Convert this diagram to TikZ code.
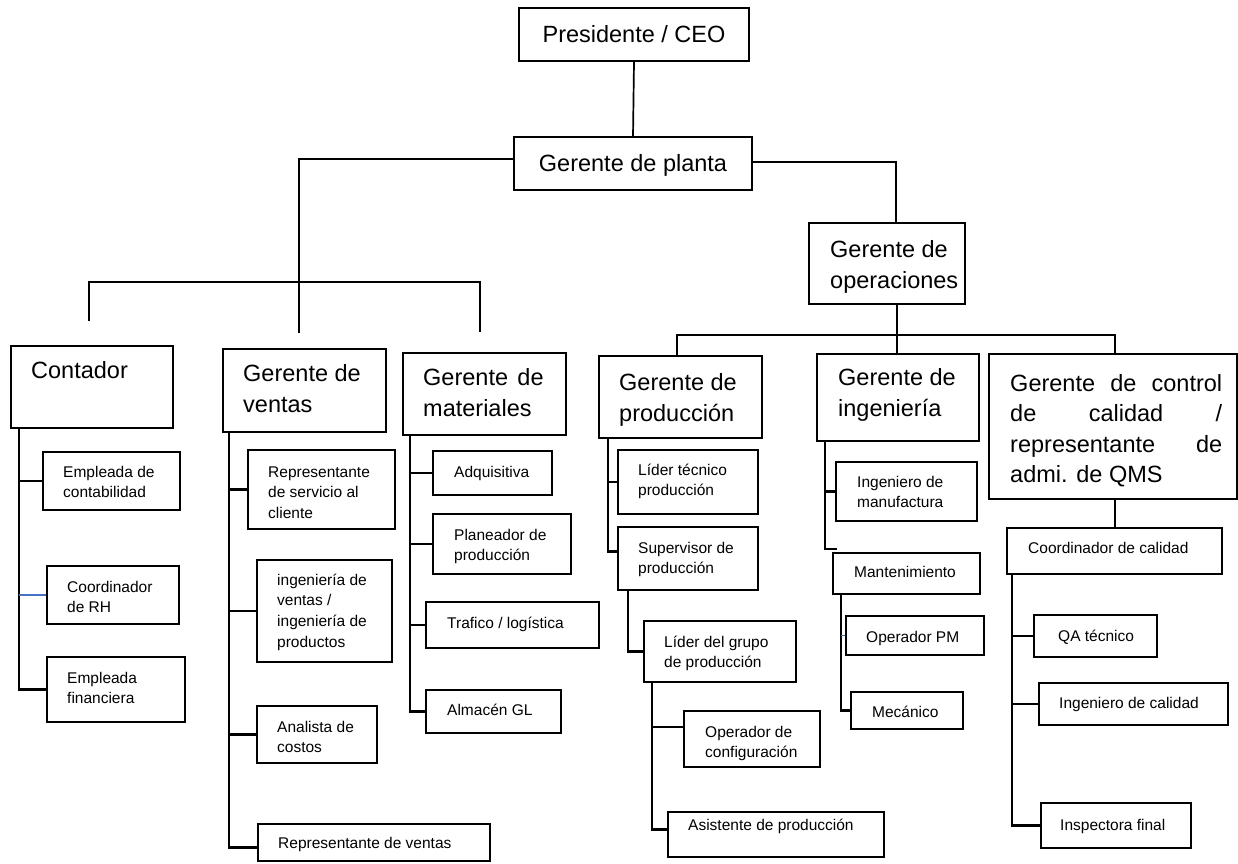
\documentclass[tikz,border=0pt]{standalone}
\usepackage{fontspec}
\setmainfont{Liberation Sans}
\definecolor{linkblue}{RGB}{68,114,196}
% box given by its corners (x1,y1)-(x2,y2), y measured downwards
\newcommand{\orgbox}[5]{\node[box, minimum width={(#4-#2)*1pt}, minimum height={(#5-#3)*1pt}] (#1) at ({(#2+#4)/2},{(#3+#5)/2}) {};}
% left-aligned text block whose first baseline sits at (x,y)
\newcommand{\orgtext}[5]{\node[#2] (#1) at (#3,#4) {\begin{tabular}[t]{@{}l@{}}#5\end{tabular}};}
\begin{document}
\begin{tikzpicture}[x=1pt,y=-1pt,
  box/.style={draw, line width=1.5pt, inner sep=0pt},
  wire/.style={line width=2.1pt},
  topwire/.style={line width=1.7pt},
  bluewire/.style={line width=1.7pt, draw=linkblue},
  big/.style={font=\fontsize{23.5}{31}\selectfont, inner sep=0pt, anchor=base west},
  small/.style={font=\fontsize{15.5}{20.7}\selectfont, inner sep=0pt, anchor=base west},
]
\useasboundingbox (0,0) rectangle (1238,863);

% ---------- top levels ----------
\orgbox{pres}{519}{8}{749}{61}
\node[big, anchor=base] (pres-t) at (634,42) {Presidente / CEO};
\orgbox{gp}{514}{137}{752}{190}
\node[big, anchor=base] (gp-t) at (633,171) {Gerente de planta};
\orgbox{opr}{809}{223}{965}{304}
\orgtext{opr-t}{big}{830}{257}{Gerente de\\operaciones}

\draw[topwire] (pres.south) -- (gp.north);

% left branch of the plant manager
\coordinate (jL) at (299,159);
\coordinate (dV) at (299,333);
\coordinate (hL) at (89,282);
\coordinate (hR) at (480,282);
\coordinate (dC) at (89,321);
\coordinate (dM) at (480,332);
\draw[wire] (gp.west |- jL) -- (jL) -- (dV);
\draw[wire] (dC) -- (hL) -- (hR) -- (dM);

% right branch of the plant manager
\coordinate (jR) at (896,162);
\draw[topwire] (gp.east |- jR) -- (jR) -- (jR |- opr.north);

% ---------- accounting ----------
\orgbox{ctr}{11}{346}{173}{428}
\orgtext{ctr-t}{big}{31}{378}{Contador}
\orgbox{emp1}{43}{452}{180}{510}
\orgtext{emp1-t}{small}{63}{477}{Empleada de\\contabilidad}
\orgbox{rh}{47}{566}{179}{624}
\orgtext{rh-t}{small}{67}{592}{Coordinador\\de RH}
\orgbox{fin}{47}{657}{185}{722}
\orgtext{fin-t}{small}{67}{683}{Empleada\\financiera}
\coordinate (ctrS) at ([xshift=9pt]ctr.south west);
\draw[wire] (ctrS) |- (fin.west);
\draw[wire] (emp1.west) -- (emp1.west -| ctrS);
\draw[bluewire] (rh.west) -- (rh.west -| ctrS);

% ---------- sales ----------
\orgbox{ven}{223}{349}{386}{432}
\orgtext{ven-t}{big}{243}{381}{Gerente de\\ventas}
\orgbox{rsc}{248}{450}{395}{529}
\orgtext{rsc-t}{small}{268}{477}{Representante\\de servicio al\\cliente}
\orgbox{ivp}{257}{560}{392}{662}
\orgtext{ivp-t}{small}{277}{585}{ingeniería de\\ventas /\\ingeniería de\\productos}
\orgbox{ana}{257}{706}{377}{763}
\orgtext{ana-t}{small}{277}{732}{Analista de\\costos}
\orgbox{rve}{258}{824}{490}{861}
\orgtext{rve-t}{small}{278}{848}{Representante de ventas}
\coordinate (venS) at ([xshift=7pt]ven.south west);
\draw[wire] (venS) |- ([yshift=-5pt]rve.west);
\draw[wire] (rsc.west) -- (rsc.west -| venS);
\draw[wire] (ivp.west) -- (ivp.west -| venS);
\draw[wire] (ana.west) -- (ana.west -| venS);

% ---------- materials ----------
\orgbox{mat}{403}{353}{566}{435}
\orgtext{mat-t}{big}{423}{385}{Gerente\hspace{0.12em} de\\materiales}
\orgbox{adq}{433}{451}{552}{495}
\orgtext{adq-t}{small}{454}{477}{Adquisitiva}
\orgbox{pln}{433}{514}{571}{574}
\orgtext{pln-t}{small}{454}{540}{Planeador de\\producción}
\orgbox{tra}{426}{602}{599}{648}
\orgtext{tra-t}{small}{447}{628}{Trafico / logística}
\orgbox{alm}{426}{690}{561}{733}
\orgtext{alm-t}{small}{447}{715}{Almacén GL}
\coordinate (matS) at ([xshift=8pt]mat.south west);
\draw[wire] (matS) |- (alm.west);
\draw[wire] (adq.west) -- (adq.west -| matS);
\draw[wire] (pln.west) -- (pln.west -| matS);
\draw[wire] (tra.west) -- (tra.west -| matS);

% ---------- operations: second bar ----------
\coordinate (hPL) at (677,335);
\coordinate (hPR) at (1115,335);
\coordinate (jO) at (897,335);
\draw[topwire] (jO |- opr.south) -- (jO) -- (jO |- 0,354);
\draw[topwire] (hPL |- 0,356) -- (hPL) -- (hPR) -- (hPR |- 0,354);

% ---------- production ----------
\orgbox{pro}{599}{356}{762}{438}
\orgtext{pro-t}{big}{619}{390}{Gerente de\\producción}
\orgbox{ltp}{618}{450}{758}{514}
\orgtext{ltp-t}{small}{638}{475}{Líder técnico\\producción}
\orgbox{sup}{618}{527}{758}{590}
\orgtext{sup-t}{small}{638}{553}{Supervisor de\\producción}
\coordinate (proS) at ([xshift=10pt]pro.south west);
\draw[wire] (proS) |- ([yshift=7pt]sup.west);
\draw[wire] (ltp.west) -- (ltp.west -| proS);
\orgbox{lgp}{644}{621}{796}{682}
\orgtext{lgp-t}{small}{664}{647}{Líder del grupo\\de producción}
\coordinate (supS) at ([xshift=11pt]sup.south west);
\draw[wire] (supS) |- (lgp.west);
\orgbox{opc}{684}{711}{820}{767}
\orgtext{opc-t}{small}{705}{737}{Operador de\\configuración}
\orgbox{asi}{668}{812}{884}{857}
\orgtext{asi-t}{small}{688}{830}{Asistente de producción}
\coordinate (lgpS) at ([xshift=9pt]lgp.south west);
\draw[wire] (lgpS) |- ([yshift=5pt]asi.west);
\draw[wire] ([yshift=12pt]opc.west) -- ([yshift=12pt]opc.west -| lgpS);

% ---------- engineering ----------
\orgbox{ing}{817}{354}{979}{441}
\orgtext{ing-t}{big}{838}{385}{Gerente de\\ingeniería}
\orgbox{imf}{836}{462}{977}{521}
\orgtext{imf-t}{small}{857}{487}{Ingeniero de\\manufactura}
\orgbox{man}{833}{553}{980}{594}
\orgtext{man-t}{small}{854}{577}{Mantenimiento}
\coordinate (ingS) at ([xshift=9pt]ing.south west);
\coordinate (ingEnd) at (837,549);
\draw[wire] (ingS) |- (ingEnd);
\draw[wire] (imf.west) -- (imf.west -| ingS);
\orgbox{opm}{846}{616}{984}{655}
\orgtext{opm-t}{small}{866}{642}{Operador PM}
\orgbox{mec}{851}{692}{963}{729}
\orgtext{mec-t}{small}{872}{717}{Mecánico}
\coordinate (manS) at ([xshift=9pt]man.south west);
\draw[wire] (manS) |- (mec.west);
\draw[bluewire] (opm.west) -- (opm.west -| manS);

% ---------- quality ----------
\orgbox{ctl}{989}{354}{1237}{499}
\node[font=\fontsize{23.5}{30.5}\selectfont, inner sep=0pt, anchor=base west] (ctl-t) at (1010,391)
  {\begin{tabular}[t]{@{}l@{}}
   \hbox to 212pt{Gerente\hfill de\hfill control}\\
   \hbox to 212pt{de\hfill calidad\hfill /}\\
   \hbox to 212pt{representante\hfill de}\\
   admi. de QMS
   \end{tabular}};
\orgbox{cal}{1007}{528}{1222}{574}
\orgtext{cal-t}{small}{1028}{553}{Coordinador de calidad}
\draw[wire] (ctl.south -| hPR) -- (cal.north -| hPR);
\orgbox{qat}{1034}{615}{1157}{657}
\orgtext{qat-t}{small}{1058}{641}{QA técnico}
\orgbox{ica}{1039}{683}{1228}{725}
\orgtext{ica-t}{small}{1059}{708}{Ingeniero de calidad}
\orgbox{ins}{1041}{803}{1191}{848}
\orgtext{ins-t}{small}{1060}{830}{Inspectora final}
\coordinate (calS) at ([xshift=6pt]cal.south west);
\draw[wire] (calS) |- (ins.west);
\draw[wire] (qat.west) -- (qat.west -| calS);
\draw[wire] (ica.west) -- (ica.west -| calS);
\end{tikzpicture}
\end{document}
